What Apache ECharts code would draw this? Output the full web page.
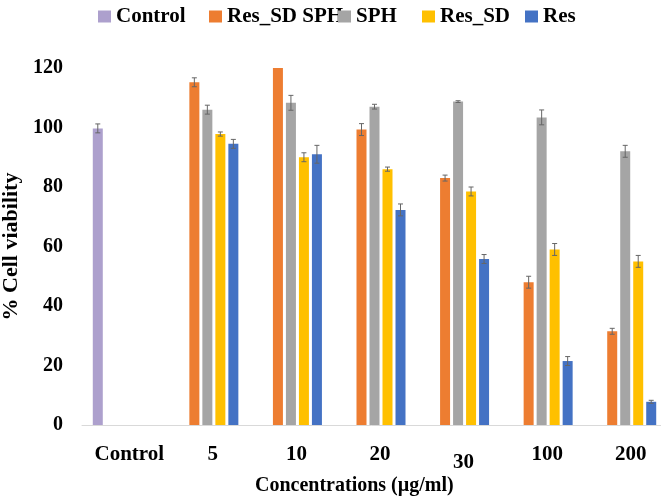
<!DOCTYPE html>
<html>
<head>
<meta charset="utf-8">
<script src="https://cdn.jsdelivr.net/npm/echarts@6/dist/echarts.min.js"></script>
<style>html,body{margin:0;padding:0;background:#fff}#c{width:661px;height:499px}</style>
</head>
<body>
<div id="c"></div>
<script>
var categories = ['Control', '5', '10', '20', '30', '100', '200'];
var seriesNames = ['Control', 'Res_SD SPH', 'SPH', 'Res_SD', 'Res'];
var control   = [99.7, '-', '-', '-', '-', '-', '-'];
var resSdSph  = ['-', 115.2, 120, 99.3, 83.0, 48.0, 31.5];
var sph       = ['-', 106.0, 108.3, 107.0, 108.7, 103.4, 92.0];
var resSd     = ['-', 97.8, 90.0, 86.0, 78.5, 59.0, 55.0];
var res       = ['-', 94.5, 91.0, 72.3, 55.8, 21.5, 7.8];
var controlErr  = [1.5, 0, 0, 0, 0, 0, 0];
var resSdSphErr = [0, 1.5, 0, 2.0, 1.0, 2.0, 1.0];
var sphErr      = [0, 1.5, 2.5, 0.8, 0.3, 2.5, 2.0];
var resSdErr    = [0, 0.7, 1.5, 0.7, 1.5, 2.0, 2.0];
var resErr      = [0, 1.5, 3.0, 2.0, 1.5, 1.5, 0.5];
var yTicks = [0, 20, 40, 60, 80, 100, 120];

var colors = ['#ADA0CD', '#ED7D31', '#A5A5A5', '#FFC000', '#4472C4'];
var values = [control, resSdSph, sph, resSd, res];
var errs = [controlErr, resSdSphErr, sphErr, resSdErr, resErr];
var FONT = 'Liberation Serif';
var BAR_W = 10, PITCH = 13;

var chart = echarts.init(document.getElementById('c'));
var series = [];
values.forEach(function (vals, i) {
  series.push({
    name: seriesNames[i], type: 'bar',
    data: vals, barWidth: BAR_W, barGap: '30%', itemStyle: {color: colors[i]}
  });
});
values.forEach(function (vals, i) {
  var d = [];
  vals.forEach(function (v, k) { if (v !== '-' && errs[i][k] > 0) d.push([k, v, errs[i][k]]); });
  series.push({
    type: 'custom', silent: true, z: 5,
    data: d,
    renderItem: (function (si) {
      return function (params, api) {
        var c = api.value(0), v = api.value(1), e = api.value(2);
        var hi = api.coord([c, v + e]), lo = api.coord([c, v - e]);
        var x = hi[0] + (si - 2) * PITCH;
        var st = {stroke: '#666', lineWidth: 1};
        return {type: 'group', children: [
          {type: 'line', shape: {x1: x, y1: hi[1], x2: x, y2: lo[1]}, style: st},
          {type: 'line', shape: {x1: x - 2.5, y1: hi[1], x2: x + 2.5, y2: hi[1]}, style: st},
          {type: 'line', shape: {x1: x - 2.5, y1: lo[1], x2: x + 2.5, y2: lo[1]}, style: st}
        ]};
      };
    })(i)
  });
});

var legendLefts = [98, 209, 338, 422, 525];
var legends = seriesNames.map(function (n, i) {
  return {
    data: [{name: n, icon: 'rect'}], left: legendLefts[i], top: 6, padding: 0,
    itemWidth: 13, itemHeight: 12, itemGap: 0, selectedMode: false,
    textStyle: {fontFamily: FONT, fontWeight: 'bold', fontSize: 21, color: '#000'}
  };
});

chart.setOption({
  animation: false,
  backgroundColor: '#fff',
  legend: legends,
  title: {
    text: 'Concentrations (µg/ml)', left: 255, top: 476, padding: 0,
    textStyle: {fontFamily: FONT, fontWeight: 'bold', fontSize: 20, color: '#000'}
  },
  grid: {left: 82, right: -6, top: 68, bottom: 74, outerBoundsMode: 'none', containLabel: false},
  xAxis: {
    type: 'category', data: categories,
    axisLine: {lineStyle: {color: '#D9D9D9', width: 1}}, axisTick: {show: false},
    axisLabel: {interval: 0, margin: 19, padding: [0, 0, 0, 11], fontFamily: FONT, fontWeight: 'bold', fontSize: 21, color: '#000',
      formatter: function (v) { return v === '30' ? '{d|' + v + '}' : v; },
      rich: {d: {fontFamily: FONT, fontWeight: 'bold', fontSize: 21, color: '#000', padding: [8, 0, 0, 0]}}}
  },
  yAxis: {
    type: 'value', min: yTicks[0], max: yTicks[yTicks.length - 1], interval: 20,
    axisLine: {show: false}, axisTick: {show: false}, splitLine: {show: false},
    axisLabel: {margin: 19, fontFamily: FONT, fontWeight: 'bold', fontSize: 20, color: '#000'},
    name: '% Cell viability', nameLocation: 'middle', nameRotate: 90, nameGap: 57,
    nameTextStyle: {fontFamily: FONT, fontWeight: 'bold', fontSize: 22, color: '#000'}
  },
  series: series
});
</script>
</body>
</html>
